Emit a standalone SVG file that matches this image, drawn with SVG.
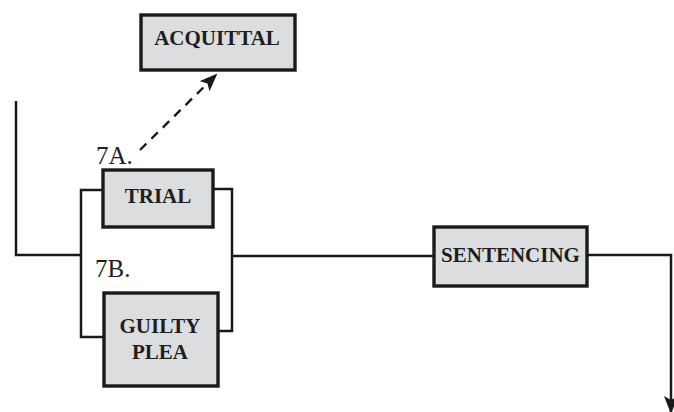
<svg xmlns="http://www.w3.org/2000/svg" width="674" height="412" viewBox="0 0 674 412">
  <style>
    .box { fill: #dcdddf; stroke: #1a1a1a; stroke-width: 3.4; }
    .lbl { font-family: "Liberation Serif", "Times New Roman", serif; font-weight: bold; font-size: 21px; fill: #1e1e1e; text-anchor: middle; }
    .num { font-family: "Liberation Serif", "Times New Roman", serif; font-size: 25px; fill: #1e1e1e; }
    .wire { fill: none; stroke: #1a1a1a; stroke-width: 2.5; }
    .dash { fill: none; stroke: #1a1a1a; stroke-width: 2.4; stroke-dasharray: 9 7; }
  </style>
  <defs>
    <marker id="head" viewBox="0 0 18 14" refX="16" refY="7" markerWidth="18" markerHeight="14" orient="auto" markerUnits="userSpaceOnUse">
      <path d="M0,0 L18,7 L0,14 L4,7 Z" fill="#1a1a1a"/>
    </marker>
  </defs>
  <rect width="674" height="412" fill="#ffffff"/>

  <g id="connectors">
    <!-- incoming line and split into the two branches -->
    <polyline class="wire" points="16,101 16,255 81,255"/>
    <polyline class="wire" points="102,190 81,190 81,337 103,337"/>
    <polyline class="wire" points="213,189 232,189 232,331 218,331"/>
    <line class="wire" x1="232" y1="256" x2="434" y2="256"/>
    <!-- sentencing onward -->
    <polyline class="wire" points="587,255 671,255 671,412" marker-end="url(#head)"/>
    <!-- trial to acquittal -->
    <line class="dash" x1="140" y1="150" x2="216" y2="75" marker-end="url(#head)"/>
  </g>

  <g id="acquittal">
    <rect class="box" x="141" y="15" width="154" height="55"/>
    <text class="lbl" x="217" y="45">ACQUITTAL</text>
  </g>

  <g id="trial">
    <rect class="box" x="103" y="170" width="110" height="57"/>
    <text class="lbl" x="158" y="203">TRIAL</text>
  </g>

  <g id="guilty-plea">
    <rect class="box" x="104" y="293" width="114" height="93"/>
    <text class="lbl" x="160" y="333">GUILTY</text>
    <text class="lbl" x="160" y="359">PLEA</text>
  </g>

  <g id="sentencing">
    <rect class="box" x="434" y="227" width="153" height="59"/>
    <text class="lbl" x="510.5" y="262">SENTENCING</text>
  </g>

  <g id="labels">
    <text class="num" x="96" y="164">7A.</text>
    <text class="num" x="95" y="277">7B.</text>
  </g>
</svg>
